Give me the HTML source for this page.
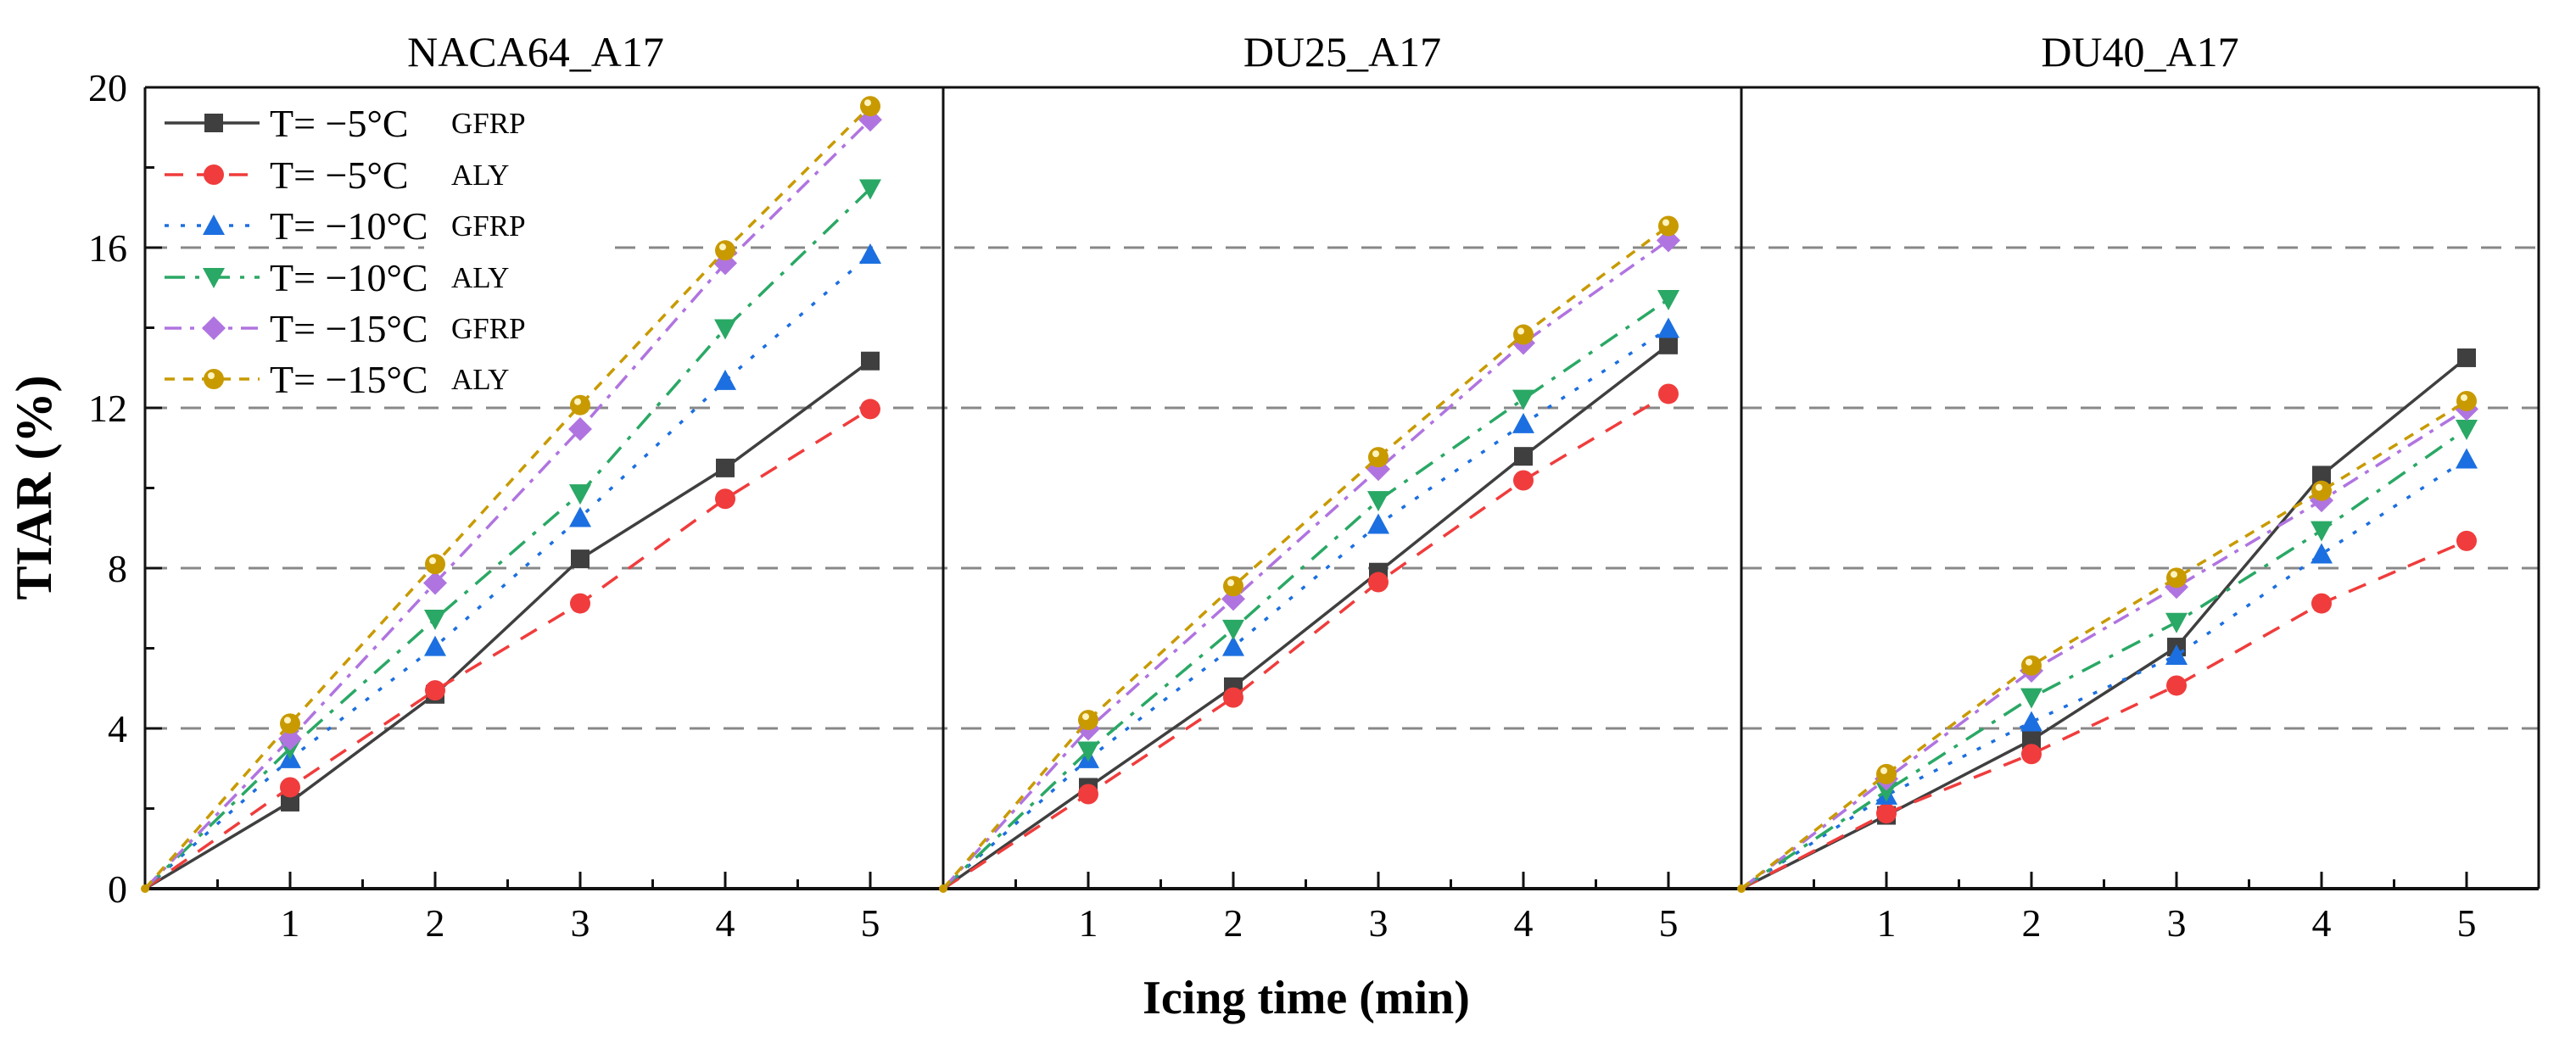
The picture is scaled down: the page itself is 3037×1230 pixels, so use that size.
<!DOCTYPE html>
<html><head><meta charset="utf-8"><style>
html,body{margin:0;padding:0;background:#fff;}
svg{display:block;font-family:"Liberation Serif",serif;}
</style></head><body>
<svg id="chart" width="3037" height="1230" viewBox="0 0 3037 1230">
<text x="60" y="575" font-size="60" font-weight="bold" text-anchor="middle" transform="rotate(-90 60 575)">TIAR (%)</text>
<text x="1540" y="1195" font-size="56" font-weight="bold" text-anchor="middle">Icing time (min)</text>
</svg>
<script>
const panelTitles = ["NACA64_A17","DU25_A17","DU40_A17"];
const xCategories = [0,1,2,3,4,5];
const yTicks = [0,4,8,12,16,20];
const seriesNames = ["GFRP -5","ALY -5","GFRP -10","ALY -10","GFRP -15","ALY -15"];
const legendTemps = ["T= \u22125\u00b0C","T= \u22125\u00b0C","T= \u221210\u00b0C","T= \u221210\u00b0C","T= \u221215\u00b0C","T= \u221215\u00b0C"];
const legendMats = ["GFRP","ALY","GFRP","ALY","GFRP","ALY"];
const naca = [
 [0,2.16,4.85,8.23,10.5,13.17],
 [0,2.53,4.95,7.12,9.73,11.97],
 [0,3.24,6.04,9.26,12.68,15.83],
 [0,3.5,6.73,9.86,13.98,17.47],
 [0,3.74,7.63,11.47,15.61,19.19],
 [0,4.12,8.1,12.07,15.93,19.53]];
const du25 = [
 [0,2.53,5.04,7.9,10.79,13.57],
 [0,2.36,4.77,7.65,10.19,12.35],
 [0,3.24,6.04,9.09,11.6,13.98],
 [0,3.44,6.48,9.69,12.22,14.71],
 [0,3.99,7.23,10.47,13.62,16.18],
 [0,4.21,7.55,10.77,13.83,16.54]];
const du40 = [
 [0,1.83,3.71,6.03,10.32,13.25],
 [0,1.88,3.36,5.07,7.12,8.68],
 [0,2.33,4.16,5.82,8.35,10.72],
 [0,2.44,4.77,6.65,8.94,11.47],
 [0,2.74,5.44,7.53,9.69,11.97],
 [0,2.86,5.57,7.76,9.93,12.17]];
const panelData = [naca, du25, du40];

const NS="http://www.w3.org/2000/svg";
const svg=document.getElementById('chart');
const colors=["#3f3f3f","#f03c3c","#1c6fe0","#2aa865","#b074e0","#c89a00"];
const dashes=["","22 16","5 14","24 12 5 12","20 10 5 10","12 10"];
const markers=["square","circle","tri","tridown","diamond","ball"];
const panelLeft=[171,1112,2053], panelRight=[1112,2053,2993];
const plotTop=103, plotBottom=1048, unit=171;
const yv=v=>plotBottom-(v/20)*(plotBottom-plotTop);
function mk(tag,attrs,parent){const e=document.createElementNS(NS,tag);for(const k in attrs)e.setAttribute(k,attrs[k]);(parent||svg).appendChild(e);return e;}
function marker(type,x,y,c,g){
 const s=11;let e;
 if(type==="square")e=mk('rect',{x:x-s,y:y-s,width:2*s,height:2*s,fill:c},g);
 else if(type==="circle")e=mk('circle',{cx:x,cy:y,r:s+1,fill:c},g);
 else if(type==="tri")e=mk('polygon',{points:`${x},${y-s-2} ${x+s+2},${y+s} ${x-s-2},${y+s}`,fill:c},g);
 else if(type==="tridown")e=mk('polygon',{points:`${x},${y+s+2} ${x+s+2},${y-s} ${x-s-2},${y-s}`,fill:c},g);
 else if(type==="diamond")e=mk('polygon',{points:`${x},${y-s-3} ${x+s+3},${y} ${x},${y+s+3} ${x-s-3},${y}`,fill:c},g);
 else {e=mk('circle',{cx:x,cy:y,r:s+1,fill:c},g);mk('circle',{cx:x-3,cy:y-4,r:4,fill:"#fff3c0"},g);}
 return e;
}
[4,8,12,16].forEach(v=>{
 const segs = v===16 ? [[173,500],[725,2993]] : [[173,2993]];
 segs.forEach(s=>{const l=mk('line',{x1:s[0],x2:s[1],y1:yv(v),y2:yv(v),stroke:"#888",'stroke-width':3,'stroke-dasharray':"24 16"});
 
 });
});
panelTitles.forEach((t,p)=>{
 const L=panelLeft[p],R=panelRight[p];
 const xp=x=>L+x*unit;
 const g=mk('g',{});
 
 
 const tt=mk('text',{x:(L+R)/2+(p===0?-10:0),y:78,'font-size':50,'text-anchor':'middle'},g);tt.textContent=t;
 
 
 mk('line',{x1:L,x2:L,y1:plotTop,y2:plotBottom,stroke:"#111",'stroke-width':3},g);
 mk('line',{x1:L,x2:R,y1:plotTop,y2:plotTop,stroke:"#111",'stroke-width':3},g);
 mk('line',{x1:L,x2:R,y1:plotBottom,y2:plotBottom,stroke:"#111",'stroke-width':4},g);
 if(p===2)mk('line',{x1:R,x2:R,y1:plotTop,y2:plotBottom,stroke:"#111",'stroke-width':3},g);
 for(let i=1;i<=5;i++){
  mk('line',{x1:xp(i),x2:xp(i),y1:plotBottom,y2:plotBottom-20,stroke:"#111",'stroke-width':3},g);
  mk('line',{x1:xp(i-0.5),x2:xp(i-0.5),y1:plotBottom,y2:plotBottom-11,stroke:"#111",'stroke-width':3},g);
  const tl=mk('text',{x:xp(xCategories[i]),y:1104,'font-size':46,'text-anchor':'middle'},g);tl.textContent=xCategories[i];
  
  
 }
 if(p===0){
  yTicks.forEach(v=>{
   mk('line',{x1:L,x2:L+20,y1:yv(v),y2:yv(v),stroke:"#111",'stroke-width':3},g);
   if(v<20)mk('line',{x1:L,x2:L+11,y1:yv(v+2),y2:yv(v+2),stroke:"#111",'stroke-width':3},g);
   const yl=mk('text',{x:150,y:yv(v)+16,'font-size':46,'text-anchor':'end'},g);yl.textContent=v;
   
   
  });
 }
 panelData[p].forEach((vals,s)=>{
  const pts=vals.map((v,i)=>xp(xCategories[i])+","+yv(v)).join(" ");
  const pl=mk('polyline',{points:pts,fill:"none",stroke:colors[s],'stroke-width':3.5,'stroke-dasharray':dashes[s]},g);
  
  
  vals.forEach((v,i)=>{ if(i===0) return;
   const m=marker(markers[s],xp(xCategories[i]),yv(v),colors[s],g);
   
   
  });
 });
 mk('circle',{cx:xp(0),cy:yv(0),r:5,fill:colors[5]},g);
});
const lg=mk('g',{});


const ly=[145,206,266,327,387,447];
seriesNames.forEach((n,s)=>{
 const e=mk('g',{},lg);
 
 
 mk('line',{x1:194,x2:306,y1:ly[s],y2:ly[s],stroke:colors[s],'stroke-width':3.5,'stroke-dasharray':dashes[s]},e);
 marker(markers[s],252,ly[s],colors[s],e);
 const t=mk('text',{x:318,y:ly[s]+16,'font-size':46},e);t.textContent=legendTemps[s];
 const m=mk('text',{x:532,y:ly[s]+12,'font-size':35},e);m.textContent=legendMats[s];
});
</script>
</body></html>
